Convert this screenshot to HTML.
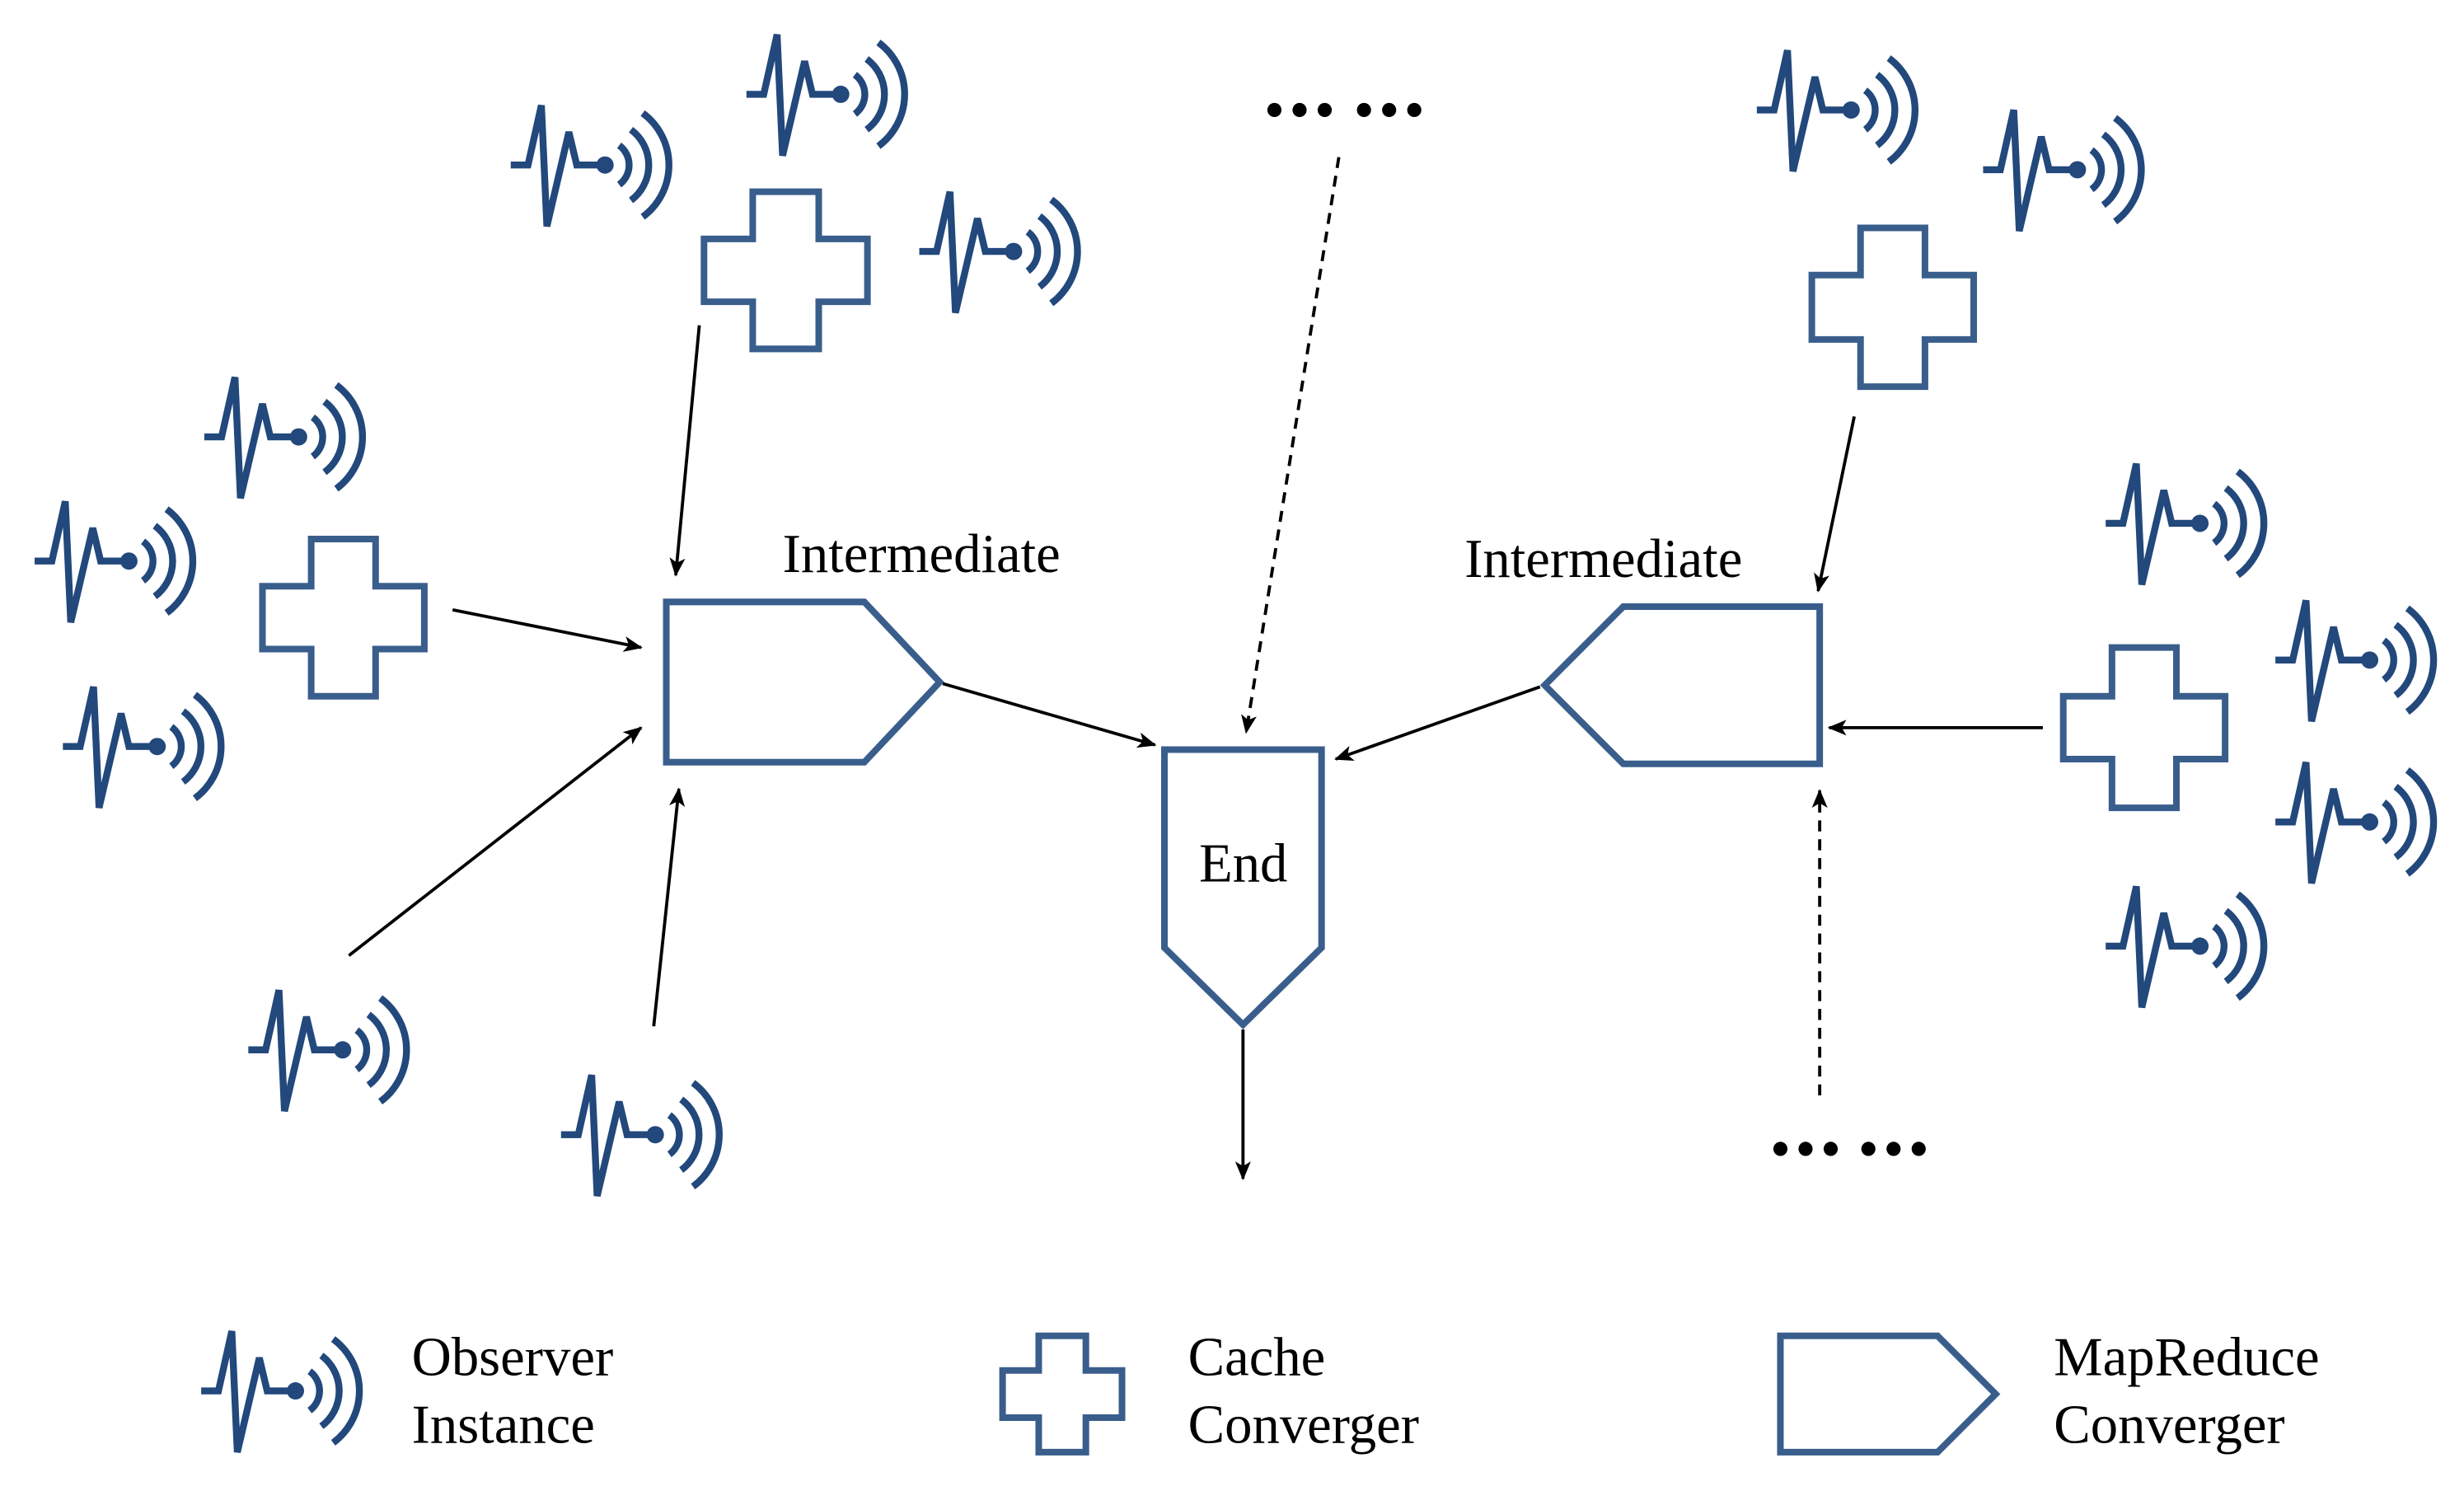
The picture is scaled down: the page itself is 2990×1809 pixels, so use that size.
<!DOCTYPE html>
<html><head><meta charset="utf-8"><style>html,body{margin:0;padding:0;background:#fff}svg{display:block}</style></head>
<body>
<svg width="2990" height="1809" viewBox="0 0 1568 948.7" xmlns="http://www.w3.org/2000/svg">
<defs>
<marker id="ah" markerWidth="12" markerHeight="10" refX="11" refY="5" orient="auto" markerUnits="userSpaceOnUse" viewBox="0 0 12 10">
<path d="M0,0 L12,5 L0,10 L3,5 Z" fill="#000"/>
</marker>
<g id="s" fill="none" stroke="#22487c" stroke-width="4.4">
<path d="M0,0 H11 L19.5,-38 L23,39 L37,-21 L42,0 H58"/>
<circle cx="60" cy="0" r="5.5" fill="#22487c" stroke="none"/>
<path d="M69,-12.5 A15.5,15.5 0 0 1 69,12.5"/>
<path d="M76.5,-22.5 A28,28 0 0 1 76.5,22.5"/>
<path d="M84,-33 A41,41 0 0 1 84,33"/>
</g>
</defs>
<g>
<use href="#s" x="325" y="105"/>
<use href="#s" x="475" y="60"/>
<use href="#s" x="585" y="160"/>
<use href="#s" x="130" y="278"/>
<use href="#s" x="22" y="357"/>
<use href="#s" x="40" y="475"/>
<use href="#s" x="158" y="668"/>
<use href="#s" x="357" y="722"/>
<use href="#s" x="1118" y="70"/>
<use href="#s" x="1262" y="108"/>
<use href="#s" x="1340" y="333"/>
<use href="#s" x="1448" y="420"/>
<use href="#s" x="1448" y="523"/>
<use href="#s" x="1340" y="602"/>
<use href="#s" x="128" y="885"/>
</g>
<g fill="none" stroke="#3a5e8c" stroke-width="4.2">
<path d="M479,122 H521 V152 H552 V192 H521 V222 H479 V192 H448 V152 H479 Z"/>
<path d="M198,343 H239 V373 H270 V413 H239 V443 H198 V413 H167 V373 H198 Z"/>
<path d="M1184,145 H1225 V175 H1256 V216 H1225 V246 H1184 V216 H1153 V175 H1184 Z"/>
<path d="M1344,412 H1385 V443 H1416 V483 H1385 V514 H1344 V483 H1313 V443 H1344 Z"/>
<path d="M661,850 H691 V872 H714 V902 H691 V924 H661 V902 H638 V872 H661 Z"/>
<path d="M424,383 H550 L598,434 L550,485 H424 Z"/>
<path d="M1158,386 V486 H1033 L983,436 L1033,386 Z"/>
<path d="M741,477 H841 V603 L791,652 L741,603 Z"/>
<path d="M1133,850 H1233 L1270,887 L1233,924 H1133 Z"/>
</g>
<g stroke="#000" stroke-width="2" fill="none" marker-end="url(#ah)">
<line x1="445" y1="207" x2="430" y2="366"/>
<line x1="288" y1="388" x2="408" y2="412"/>
<line x1="222" y1="608" x2="408" y2="463"/>
<line x1="416" y1="653" x2="432" y2="502"/>
<line x1="600" y1="435" x2="735" y2="474"/>
<line x1="852" y1="100" x2="793" y2="466" stroke-dasharray="7,5"/>
<line x1="980" y1="437" x2="850" y2="483"/>
<line x1="1180" y1="265" x2="1157" y2="376"/>
<line x1="1300" y1="463" x2="1164" y2="463"/>
<line x1="1158" y1="697" x2="1158" y2="503" stroke-dasharray="7,5"/>
<line x1="791" y1="655" x2="791" y2="750"/>
</g>
<g fill="#000">
<circle cx="811" cy="70" r="4.5"/><circle cx="827" cy="70" r="4.5"/><circle cx="843" cy="70" r="4.5"/>
<circle cx="868" cy="70" r="4.5"/><circle cx="884" cy="70" r="4.5"/><circle cx="900" cy="70" r="4.5"/>
<circle cx="1133" cy="731" r="4.5"/><circle cx="1149" cy="731" r="4.5"/><circle cx="1165" cy="731" r="4.5"/>
<circle cx="1189" cy="731" r="4.5"/><circle cx="1205" cy="731" r="4.5"/><circle cx="1221" cy="731" r="4.5"/>
</g>
<g font-family="Liberation Serif, serif" font-size="35" fill="#000">
<text x="498" y="364">Intermediate</text>
<text x="932" y="367">Intermediate</text>
<text x="763" y="561">End</text>
<text x="262" y="875">Observer</text>
<text x="262" y="918">Instance</text>
<text x="756" y="875">Cache</text>
<text x="756" y="918">Converger</text>
<text x="1307" y="875">MapReduce</text>
<text x="1307" y="918">Converger</text>
</g>
</svg>
</body></html>
